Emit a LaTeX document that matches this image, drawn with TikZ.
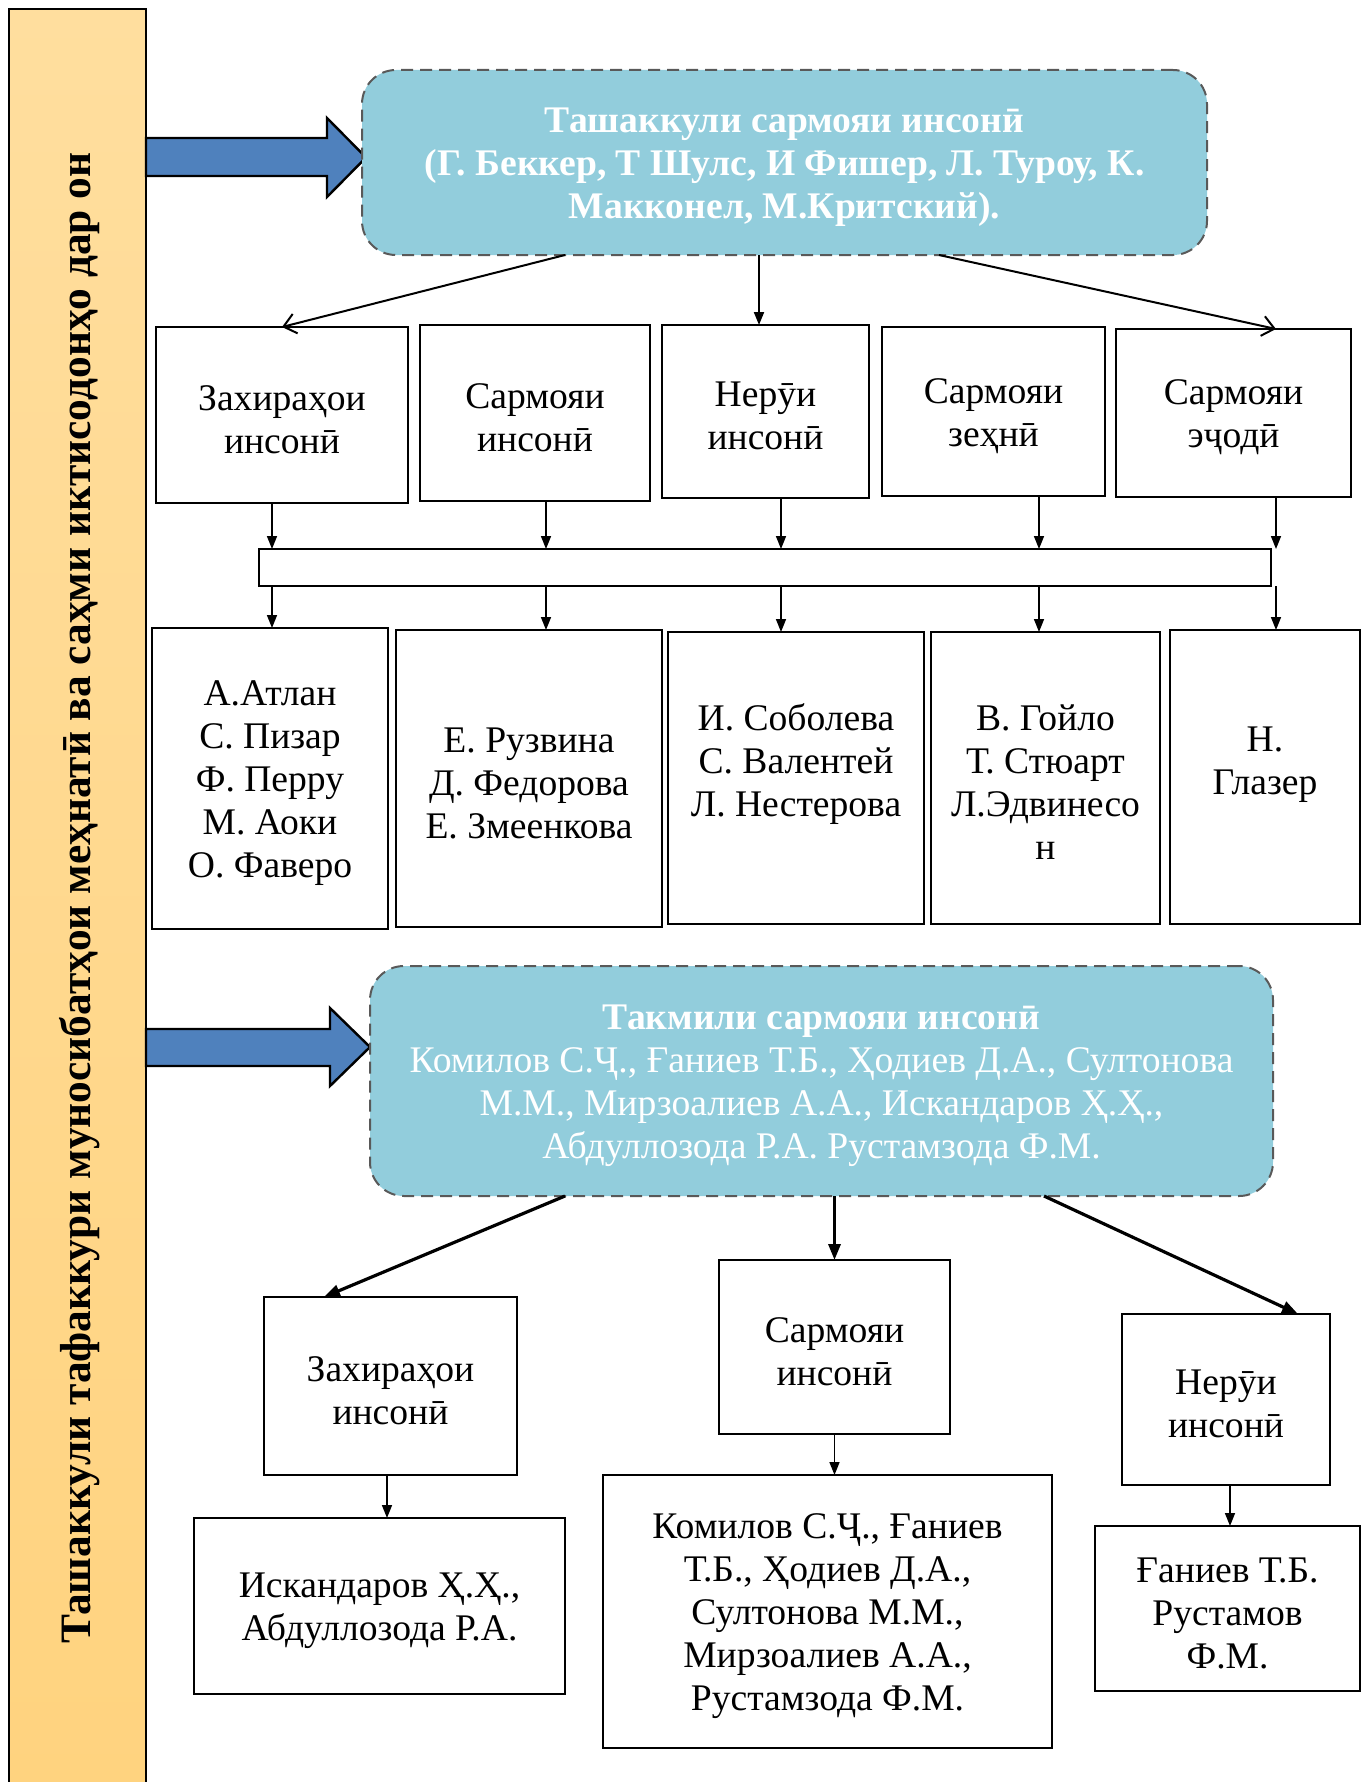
\documentclass[tikz,border=0pt]{standalone}
\usepackage{fontspec}
\setmainfont{Liberation Serif}
\usepackage{tikz}
\usetikzlibrary{arrows.meta}
\definecolor{c92CDDC}{RGB}{146,205,220}
\definecolor{c4F81BD}{RGB}{79,129,189}
\definecolor{cFFDE9E}{RGB}{255,222,158}
\definecolor{cFFD37F}{RGB}{255,211,127}
\definecolor{c595959}{RGB}{89,89,89}
\newcommand{\tstrut}{\rule{0pt}{17pt}}

\begin{document}
\begin{tikzpicture}[y=0.5pt,x=0.5pt,yscale=-1, inner sep=0pt, outer sep=0pt,
    box/.style={draw=black, line width=1.1pt},
    textbox/.style={box, align=center, font=\fontsize{18.8}{21.5}\selectfont},
    bluebox/.style={fill=c92CDDC, draw=c595959, line width=1pt, dashed,
      dash pattern=on 6pt off 3.5pt, rounded corners=17pt, align=center,
      text=white, font=\fontsize{18.8}{21.5}\selectfont},
    fatarrow/.style={fill=c4F81BD, draw=black, line width=1.2pt},
    thinarrow/.style={draw=black, line width=1pt,
      -{Straight Barb[length=6pt,width=10pt]}},
    smallarrow/.style={draw=black, line width=0.8pt,
      -{Triangle[length=6.5pt,width=5pt]}},
    bigarrow/.style={draw=black, line width=1.6pt,
      -{Triangle[length=8pt,width=6pt]}}]
  \useasboundingbox (0,0) rectangle (1370,1782);

  % side bar
  \path[top color=cFFDE9E, bottom color=cFFD37F] (9,9) rectangle (146,1782);
  \draw[line width=1.2pt] (9,1782) -- (9,9) -- (146,9) -- (146,1782);
  \node[rotate=90, font=\fontsize{21.7}{26}\selectfont\bfseries] (side) at (80,898)
    {Ташаккули тафаккури муносибатҳои меҳнатӣ ва саҳми иктисодонҳо дар он};

  % block arrows
  \path[fatarrow] (146,138) -- (327,138) -- (327,118) -- (366,157.5) --
    (327,197) -- (327,176) -- (146,176) -- cycle;
  \path[fatarrow] (146,1029) -- (330,1029) -- (330,1008) -- (370,1047) --
    (330,1086) -- (330,1066) -- (146,1066) -- cycle;

  % first part
  \node[bluebox, font=\fontsize{18.8}{21.5}\selectfont\bfseries,
    minimum width=422.5pt, minimum height=92.5pt] (top1) at (784.5,162.5)
    {\tstrut Ташаккули сармояи инсонӣ\\(Г. Беккер, Т Шулс, И Фишер, Л. Туроу, К.\\Макконел, М.Критский).};

  \node[textbox, minimum width=126pt, minimum height=88pt] (b1) at (282,415) {\tstrut Захираҳои\\инсонӣ};
  \node[textbox, minimum width=115pt, minimum height=88pt] (b2) at (535,413) {\tstrut Сармояи\\инсонӣ};
  \node[textbox, minimum width=103.5pt, minimum height=86.5pt] (b3) at (765.5,411.5) {\tstrut Нерӯи\\инсонӣ};
  \node[textbox, minimum width=111.5pt, minimum height=84.5pt] (b4) at (993.5,411.5) {\tstrut Сармояи\\зеҳнӣ};
  \node[textbox, minimum width=117.5pt, minimum height=84pt] (b5) at (1233.5,413) {\tstrut Сармояи\\эҷодӣ};

  \node[box, minimum width=506pt, minimum height=18.5pt] (bar) at (765,567.5) {};

  \node[textbox, minimum width=118pt, minimum height=150.5pt] (n1) at (270,778.5)
    {\tstrut А.Атлан\\С. Пизар\\Ф. Перру\\М. Аоки\\О. Фаверо};
  \node[textbox, minimum width=133pt, minimum height=148.5pt] (n2) at (529,778.5)
    {\tstrut Е. Рузвина\\Д. Федорова\\Е. Змеенкова};
  \node[textbox, minimum width=128pt, minimum height=146pt] (n3) at (796,778)
    {\tstrut И. Соболева\\С. Валентей\\Л. Нестерова\\ \mbox{}};
  \node[textbox, minimum width=114.5pt, minimum height=146pt] (n4) at (1045.5,778)
    {\tstrut В. Гойло\\Т. Стюарт\\Л.Эдвинесо\\н};
  \node[textbox, minimum width=95pt, minimum height=147pt] (n5) at (1265,777)
    {\tstrut Н.\\Глазер\\ \mbox{}};

  \draw[thinarrow] (top1.south -| 565,0) -- (b1.north);
  \draw[smallarrow, line width=1pt] (top1.south -| 759,0) -- (b3.north -| 759,0);
  \draw[thinarrow] (top1.south -| 939,0) -- (b5.north -| 1276,0);

  \foreach \b/\n/\x in {b1/n1/272, b2/n2/546, b3/n3/781, b4/n4/1039, b5/n5/1276} {
    \draw[smallarrow] (\b.south -| \x,0) -- (bar.north -| \x,0);
    \draw[smallarrow] (bar.south -| \x,0) -- (\n.north -| \x,0);
  }

  % second part
  \node[bluebox, minimum width=451.5pt, minimum height=115pt] (top2) at (821.5,1081)
    {\tstrut\textbf{Такмили сармояи инсонӣ}\\Комилов С.Ҷ., Ғаниев Т.Б., Ҳодиев Д.А., Султонова\\М.М., Мирзоалиев А.А., Искандаров Ҳ.Ҳ.,\\Абдуллозода Р.А. Рустамзода Ф.М.};

  \node[textbox, minimum width=126.5pt, minimum height=89pt] (l1) at (390.5,1386) {\tstrut Захираҳои\\инсонӣ};
  \node[textbox, minimum width=115.5pt, minimum height=87pt] (l2) at (834.5,1347) {\tstrut Сармояи\\инсонӣ};
  \node[textbox, minimum width=104pt, minimum height=85.5pt] (l3) at (1226,1399.5) {\tstrut Нерӯи\\инсонӣ};

  \node[textbox, minimum width=185.5pt, minimum height=88pt] (m1) at (379.5,1606)
    {\tstrut Искандаров Ҳ.Ҳ.,\\Абдуллозода Р.А.};
  \node[textbox, minimum width=224.5pt, minimum height=136.5pt] (m2) at (827.5,1611.5)
    {\tstrut Комилов С.Ҷ., Ғаниев\\Т.Б., Ҳодиев Д.А.,\\Султонова М.М.,\\Мирзоалиев А.А.,\\Рустамзода Ф.М.};
  \node[textbox, minimum width=132.5pt, minimum height=82.5pt] (m3) at (1227.5,1608.5)
    {\tstrut Ғаниев Т.Б.\\Рустамов\\Ф.М.};

  \draw[bigarrow] (top2.south -| 565,0) -- (l1.north -| 324,0);
  \draw[bigarrow] (top2.south -| l2.north) -- (l2.north);
  \draw[bigarrow] (top2.south -| 1044,0) -- (l3.north -| 1298,0);

  \draw[smallarrow] (l1.south -| 387,0) -- (m1.north -| 387,0);
  \draw[smallarrow] (l2.south) -- (l2.south |- m2.north);
  \draw[smallarrow] (l3.south -| 1230,0) -- (m3.north -| 1230,0);

\end{tikzpicture}
\end{document}
